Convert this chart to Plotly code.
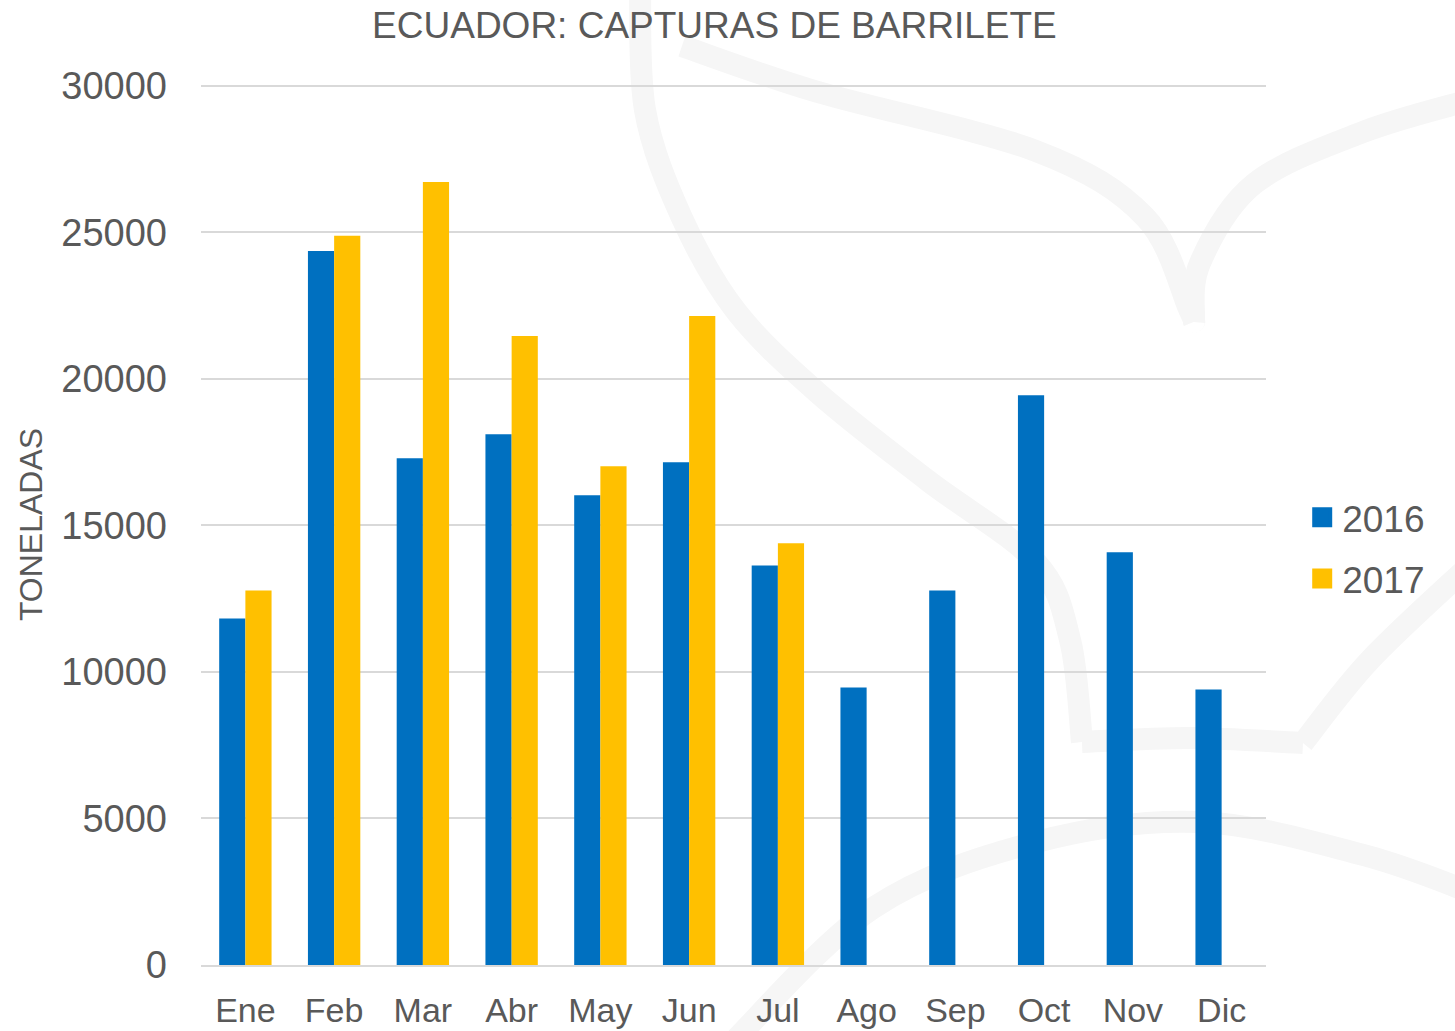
import plotly.graph_objects as go

months = ["Ene", "Feb", "Mar", "Abr", "May", "Jun", "Jul", "Ago", "Sep", "Oct", "Nov", "Dic"]
v2016 = [11820, 24360, 17290, 18110, 16030, 17150, 13630, 9470, 12780, 19440, 14080, 9400]
v2017 = [12780, 24880, 26720, 21460, 17020, 22140, 14390, None, None, None, None, None]
y_ticks = [0, 5000, 10000, 15000, 20000, 25000, 30000]

C16 = "#0070C0"
C17 = "#FFC000"
TXT = "#595959"
FONT = "Liberation Sans, Arial, sans-serif"

# plot area in pixels (for the decorative watermark)
L, R, T, B = 201, 1266, 84, 965
YMAX = 30060


def px_path(pts):
    def cv(p):
        return ((p[0] - L) / (R - L), (B - p[1]) / (B - T))
    P = [cv(p) for p in pts]
    d = "M%.4f,%.4f" % P[0]
    for i in range(len(P) - 1):
        p0 = P[i - 1] if i > 0 else P[i]
        p1 = P[i]
        p2 = P[i + 1]
        p3 = P[i + 2] if i + 2 < len(P) else P[i + 1]
        c1 = (p1[0] + (p2[0] - p0[0]) / 6, p1[1] + (p2[1] - p0[1]) / 6)
        c2 = (p2[0] - (p3[0] - p1[0]) / 6, p2[1] - (p3[1] - p1[1]) / 6)
        d += " C%.4f,%.4f %.4f,%.4f %.4f,%.4f" % (c1[0], c1[1], c2[0], c2[1], p2[0], p2[1])
    return d


wm_paths = [
    [(640, -20), (645, 110), (682, 218), (736, 311), (818, 393), (927, 480), (1036, 562), (1070, 640), (1082, 742)],
    [(1082, 742), (1190, 738), (1303, 743)],
    [(1303, 743), (1370, 660), (1470, 565)],
    [(682, 46), (818, 92), (1036, 151), (1145, 217), (1189, 309), (1194, 322)],
    [(1194, 322), (1200, 263), (1254, 184), (1363, 132), (1470, 100)],
    [(730, 1045), (873, 908), (1036, 842), (1200, 822), (1363, 855), (1470, 892)],
]

shapes = [
    dict(type="path", xref="paper", yref="paper", path=px_path(p), layer="below",
         line=dict(color="#f6f6f6", width=22))
    for p in wm_paths
]

fig = go.Figure()
fig.add_trace(go.Bar(name="2016", x=months, y=v2016, marker=dict(color=C16, line=dict(width=0)),
                     showlegend=False))
fig.add_trace(go.Bar(name="2017", x=months, y=v2017, marker=dict(color=C17, line=dict(width=0)),
                     showlegend=False))
# legend entries
fig.add_trace(go.Scatter(name="2016", x=[None], y=[None], mode="markers", legendgroup="a",
                         marker=dict(symbol="square", size=16, color=C16, line=dict(color=C16, width=4))))
fig.add_trace(go.Scatter(name="2017", x=[None], y=[None], mode="markers", legendgroup="b",
                         marker=dict(symbol="square", size=16, color=C17, line=dict(color=C17, width=4))))

fig.update_layout(
    width=1455, height=1031,
    margin=dict(l=L, r=1455 - R, t=T, b=1031 - B, autoexpand=False),
    paper_bgcolor="white", plot_bgcolor="rgba(0,0,0,0)",
    font=dict(family=FONT, color=TXT, size=36),
    title=dict(text="ECUADOR: CAPTURAS DE BARRILETE", x=0.491, xanchor="center", y=0.976, yanchor="middle",
               font=dict(family=FONT, size=37, color=TXT)),
    barmode="group", bargap=0.41, bargroupgap=0,
    shapes=shapes,
    legend=dict(x=1.034, xanchor="left", y=0.473, yanchor="middle", tracegroupgap=10,
                font=dict(size=37, color=TXT), itemsizing="trace", bgcolor="rgba(0,0,0,0)"),
    showlegend=True,
)
fig.update_xaxes(type="category", categoryorder="array", categoryarray=months,
                 showgrid=False, showline=True, linecolor="#d9d9d9", linewidth=2,
                 ticks="", ticklabelstandoff=14, tickfont=dict(size=34, color=TXT),
                 automargin=False, fixedrange=True)
fig.update_yaxes(range=[0, YMAX], tickvals=y_ticks, ticktext=[str(v) for v in y_ticks],
                 showgrid=True, gridcolor="#d9d9d9", gridwidth=1.5, zeroline=False, showline=False,
                 ticks="", ticklabelstandoff=33, tickfont=dict(size=38, color=TXT),
                 title=dict(text="TONELADAS", standoff=9,
                            font=dict(family=FONT, size=32, color=TXT)),
                 automargin=False, fixedrange=True)

fig.write_html("out.html", config={"displayModeBar": False},
               post_script="document.body.style.margin='0';document.body.style.overflow='hidden';")
